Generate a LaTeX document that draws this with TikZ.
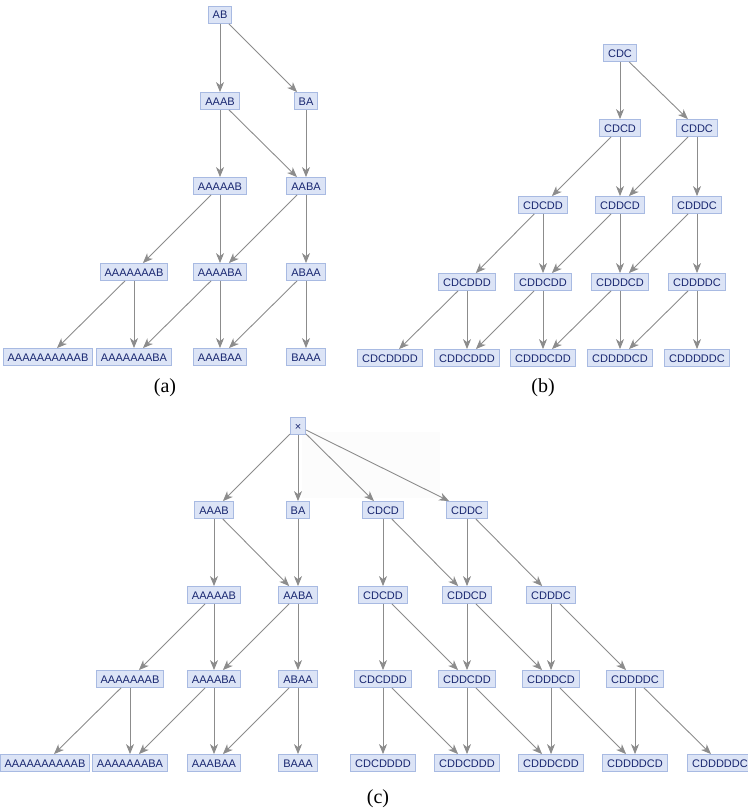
\documentclass[tikz,border=0pt]{standalone}
\usepackage{fontspec}
\setmainfont{Liberation Serif}
\newfontfamily\wordfont{Liberation Sans}
\usetikzlibrary{arrows.meta}

\definecolor{wordfill}{RGB}{220,228,246}
\definecolor{wordline}{RGB}{168,186,226}
\definecolor{wordtext}{RGB}{24,38,112}
\definecolor{edgegray}{RGB}{140,140,140}

\begin{document}
\begin{tikzpicture}[x=1pt, y=-1pt,
    word/.style={draw=wordline, fill=wordfill, text=wordtext, font=\wordfont\fontsize{11}{11}\selectfont,
                 inner xsep=4.5pt, inner ysep=4.5pt, text height=8pt, text depth=0pt, line width=0.8pt},
    edge/.style={draw=edgegray, line width=0.9pt, -{Stealth[length=10pt, width=8pt, inset=3pt]}},
    caption/.style={font=\fontsize{20}{20}\selectfont}]
    \useasboundingbox (0,0) rectangle (747,811);

    % 1. Tree (a): AB rules
    \node[word] (aAB) at (220,15) {AB};
    \node[word] (aAAAB) at (220,101) {AAAB}; \node[word] (aBA) at (306,101) {BA};
    \node[word] (aAAAAAB) at (220,186) {AAAAAB}; \node[word] (aAABA) at (306,186) {AABA};
    \node[word] (aAAAAAAAB) at (134,272) {AAAAAAAB}; \node[word] (aAAAABA) at (220,272) {AAAABA};
    \node[word] (aABAA) at (306,272) {ABAA};
    \node[word] (aAAAAAAAAAAB) at (48,357) {AAAAAAAAAAB}; \node[word] (aAAAAAAABA) at (134,357) {AAAAAAABA};
    \node[word] (aAAABAA) at (220,357) {AAABAA}; \node[word] (aBAAA) at (306,357) {BAAA};

    \foreach \s/\t in {aAB/aAAAB, aAB/aBA, aAAAB/aAAAAAB, aAAAB/aAABA, aBA/aAABA,
                       aAAAAAB/aAAAAAAAB, aAAAAAB/aAAAABA, aAABA/aAAAABA, aAABA/aABAA,
                       aAAAAAAAB/aAAAAAAAAAAB, aAAAAAAAB/aAAAAAAABA, aAAAABA/aAAAAAAABA,
                       aAAAABA/aAAABAA, aABAA/aAAABAA, aABAA/aBAAA} {
        \draw[edge] (\s) -- (\t);
    }
    \node[caption] (capA) at (165,388) {(a)};

    % 2. Tree (b): CD rules
    \node[word] (bCDC) at (620,53) {CDC};
    \node[word] (bCDCD) at (620,128) {CDCD}; \node[word] (bCDDC) at (697,128) {CDDC};
    \node[word] (bCDCDD) at (543,205) {CDCDD}; \node[word] (bCDDCD) at (620,205) {CDDCD};
    \node[word] (bCDDDC) at (697,205) {CDDDC};
    \node[word] (bCDCDDD) at (467,282) {CDCDDD}; \node[word] (bCDDCDD) at (543,282) {CDDCDD};
    \node[word] (bCDDDCD) at (620,282) {CDDDCD}; \node[word] (bCDDDDC) at (697,282) {CDDDDC};
    \node[word] (bCDCDDDD) at (390,358) {CDCDDDD}; \node[word] (bCDDCDDD) at (467,358) {CDDCDDD};
    \node[word] (bCDDDCDD) at (543,358) {CDDDCDD}; \node[word] (bCDDDDCD) at (620,358) {CDDDDCD};
    \node[word] (bCDDDDDC) at (697,358) {CDDDDDC};

    \foreach \s/\t in {bCDC/bCDCD, bCDC/bCDDC, bCDCD/bCDCDD, bCDCD/bCDDCD, bCDDC/bCDDCD, bCDDC/bCDDDC,
                       bCDCDD/bCDCDDD, bCDCDD/bCDDCDD, bCDDCD/bCDDCDD, bCDDCD/bCDDDCD,
                       bCDDDC/bCDDDCD, bCDDDC/bCDDDDC,
                       bCDCDDD/bCDCDDDD, bCDCDDD/bCDDCDDD, bCDDCDD/bCDDCDDD, bCDDCDD/bCDDDCDD,
                       bCDDDCD/bCDDDCDD, bCDDDCD/bCDDDDCD, bCDDDDC/bCDDDDCD, bCDDDDC/bCDDDDDC} {
        \draw[edge] (\s) -- (\t);
    }
    \node[caption] (capB) at (543,388) {(b)};

    % 3. Tree (c): both rule sets under one root
    \fill[black!1] (302,432) rectangle (440,498);
    \node[word] (cX) at (298,426) {×};
    \node[word] (cAAAB) at (214,510) {AAAB}; \node[word] (cBA) at (298,510) {BA};
    \node[word] (cCDCD) at (383,510) {CDCD}; \node[word] (cCDDC) at (467,510) {CDDC};
    \node[word] (cAAAAAB) at (214,595) {AAAAAB}; \node[word] (cAABA) at (298,595) {AABA};
    \node[word] (cCDCDD) at (383,595) {CDCDD}; \node[word] (cCDDCD) at (467,595) {CDDCD};
    \node[word] (cCDDDC) at (551,595) {CDDDC};
    \node[word] (cAAAAAAAB) at (130,679) {AAAAAAAB}; \node[word] (cAAAABA) at (214,679) {AAAABA};
    \node[word] (cABAA) at (298,679) {ABAA};
    \node[word] (cCDCDDD) at (383,679) {CDCDDD}; \node[word] (cCDDCDD) at (467,679) {CDDCDD};
    \node[word] (cCDDDCD) at (551,679) {CDDDCD}; \node[word] (cCDDDDC) at (635,679) {CDDDDC};
    \node[word] (cAAAAAAAAAAB) at (45,763) {AAAAAAAAAAB}; \node[word] (cAAAAAAABA) at (130,763) {AAAAAAABA};
    \node[word] (cAAABAA) at (214,763) {AAABAA}; \node[word] (cBAAA) at (298,763) {BAAA};
    \node[word] (cCDCDDDD) at (383,763) {CDCDDDD}; \node[word] (cCDDCDDD) at (467,763) {CDDCDDD};
    \node[word] (cCDDDCDD) at (551,763) {CDDDCDD}; \node[word] (cCDDDDCD) at (635,763) {CDDDDCD};
    \node[word] (cCDDDDDC) at (720,763) {CDDDDDC};

    \foreach \s/\t in {cX/cAAAB, cX/cBA, cX/cCDCD, cX/cCDDC,
                       cAAAB/cAAAAAB, cAAAB/cAABA, cBA/cAABA,
                       cAAAAAB/cAAAAAAAB, cAAAAAB/cAAAABA, cAABA/cAAAABA, cAABA/cABAA,
                       cAAAAAAAB/cAAAAAAAAAAB, cAAAAAAAB/cAAAAAAABA, cAAAABA/cAAAAAAABA,
                       cAAAABA/cAAABAA, cABAA/cAAABAA, cABAA/cBAAA,
                       cCDCD/cCDCDD, cCDCD/cCDDCD, cCDDC/cCDDCD, cCDDC/cCDDDC,
                       cCDCDD/cCDCDDD, cCDCDD/cCDDCDD, cCDDCD/cCDDCDD, cCDDCD/cCDDDCD,
                       cCDDDC/cCDDDCD, cCDDDC/cCDDDDC,
                       cCDCDDD/cCDCDDDD, cCDCDDD/cCDDCDDD, cCDDCDD/cCDDCDDD, cCDDCDD/cCDDDCDD,
                       cCDDDCD/cCDDDCDD, cCDDDCD/cCDDDDCD, cCDDDDC/cCDDDDCD, cCDDDDC/cCDDDDDC} {
        \draw[edge] (\s) -- (\t);
    }
    \node[caption] (capC) at (378,799) {(c)};

\end{tikzpicture}
\end{document}
